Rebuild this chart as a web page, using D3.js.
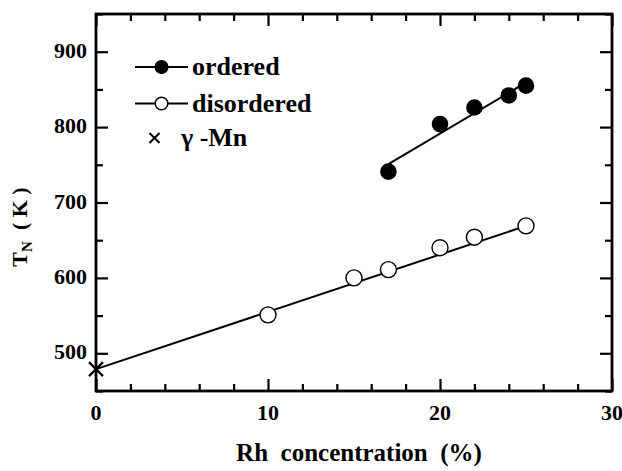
<!DOCTYPE html>
<html><head><meta charset="utf-8">
<script src="https://cdn.jsdelivr.net/npm/d3@7"></script>
<style>body{margin:0;background:#fff}svg{display:block}</style>
</head><body>
<svg id="c" width="622" height="471"></svg>
<script>
const orderedX = [17, 20, 22, 24, 25];
const orderedY = [741, 804, 826, 842, 855];
const disorderedX = [10, 15, 17, 20, 22, 25];
const disorderedY = [551, 600, 611, 640, 654, 669];
const gammaMnX = [0];
const gammaMnY = [479];
const fitOrderedX = [17, 25];
const fitOrderedY = [751, 859];
const fitDisorderedX = [0, 25];
const fitDisorderedY = [479, 669];
const xTicks = [0, 10, 20, 30];
const yTicks = [500, 600, 700, 800, 900];
const legendLabels = ["ordered", "disordered", "γ -Mn"];

const FONT = "Liberation Serif";
const svg = d3.select("#c");
const L = 96, R = 612, T = 14, B = 391;
const x = d3.scaleLinear().domain([0, 30]).range([L, R]);
const y = d3.scaleLinear().domain([450, 950]).range([B, T]);

const g = svg.append("g");
function tickAxis(axis, scale, vals, size) {
  return axis(scale).tickValues(vals).tickSize(size).tickFormat("");
}
const xMinor = d3.range(0, 31, 2).filter(v => v % 10 !== 0);
const yMinor = d3.range(450, 951, 50).filter(v => v % 100 !== 0);
const sty = s => s.call(a => a.select(".domain").remove()).selectAll("line").attr("stroke", "#000").attr("stroke-width", 2.2);
g.append("g").attr("transform", `translate(0,${B})`).call(tickAxis(d3.axisTop, x, xTicks, 12)).call(sty);
g.append("g").attr("transform", `translate(0,${B})`).call(tickAxis(d3.axisTop, x, xMinor, 7)).call(sty);
g.append("g").attr("transform", `translate(0,${T})`).call(tickAxis(d3.axisBottom, x, xTicks, 12)).call(sty);
g.append("g").attr("transform", `translate(0,${T})`).call(tickAxis(d3.axisBottom, x, xMinor, 7)).call(sty);
g.append("g").attr("transform", `translate(${L},0)`).call(tickAxis(d3.axisRight, y, yTicks, 12)).call(sty);
g.append("g").attr("transform", `translate(${L},0)`).call(tickAxis(d3.axisRight, y, yMinor, 7)).call(sty);
g.append("g").attr("transform", `translate(${R},0)`).call(tickAxis(d3.axisLeft, y, yTicks, 12)).call(sty);
g.append("g").attr("transform", `translate(${R},0)`).call(tickAxis(d3.axisLeft, y, yMinor, 7)).call(sty);
g.selectAll(".tick text").remove();

// frame
svg.append("rect").attr("x", L).attr("y", T).attr("width", R - L).attr("height", B - T)
  .attr("fill", "none").attr("stroke", "#000").attr("stroke-width", 2.8);

const txt = (sel) => sel.append("text").attr("font-family", FONT).attr("font-weight", "bold").attr("fill", "#000");

// tick labels
xTicks.forEach(d => txt(svg).attr("x", x(d)).attr("y", 420).attr("text-anchor", "middle").attr("font-size", 22).text(d));
yTicks.forEach(d => txt(svg).attr("x", 87).attr("y", y(d) + 6).attr("text-anchor", "end").attr("font-size", 22).text(d));

// lines
const line = d3.line().x(d => x(d[0])).y(d => y(d[1]));
svg.append("path").attr("d", line(d3.zip(fitOrderedX, fitOrderedY))).attr("stroke", "#000").attr("stroke-width", 2).attr("fill", "none");
svg.append("path").attr("d", line(d3.zip(fitDisorderedX, fitDisorderedY))).attr("stroke", "#000").attr("stroke-width", 2).attr("fill", "none");

// points
svg.selectAll(".op").data(d3.zip(orderedX, orderedY)).join("circle").attr("class", "op")
  .attr("cx", d => x(d[0])).attr("cy", d => y(d[1])).attr("r", 8.3).attr("fill", "#000");
svg.selectAll(".dp").data(d3.zip(disorderedX, disorderedY)).join("circle").attr("class", "dp")
  .attr("cx", d => x(d[0])).attr("cy", d => y(d[1])).attr("r", 8).attr("fill", "#fff").attr("stroke", "#000").attr("stroke-width", 1.4);
const cross = (sel, cx, cy, s, w) => {
  sel.append("path").attr("d", `M${cx - s},${cy - s}L${cx + s},${cy + s}M${cx - s},${cy + s}L${cx + s},${cy - s}`)
    .attr("stroke", "#000").attr("stroke-width", w).attr("fill", "none");
};
d3.zip(gammaMnX, gammaMnY).forEach(d => cross(svg, x(d[0]), y(d[1]), 7, 2.2));

// legend
const lg = svg.append("g");
const ly = [67, 103.5, 138];
[0, 1].forEach(i => {
  lg.append("line").attr("x1", 135).attr("x2", 188).attr("y1", ly[i]).attr("y2", ly[i]).attr("stroke", "#000").attr("stroke-width", 2);
  lg.append("circle").attr("cx", 161.5).attr("cy", ly[i]).attr("r", 6.3)
    .attr("fill", i === 0 ? "#000" : "#fff").attr("stroke", "#000").attr("stroke-width", 1.5);
  txt(lg).attr("x", 192).attr("y", ly[i] + 8).attr("font-size", 26).text(legendLabels[i]);
});
cross(lg, 154.5, ly[2], 5, 2);
txt(lg).attr("x", 181).attr("y", ly[2] + 8).attr("font-size", 26).text(legendLabels[2]);

// axis titles
txt(svg).attr("x", 359).attr("y", 461).attr("text-anchor", "middle").attr("font-size", 25)
  .style("white-space", "pre").text("Rh  concentration  (%)");
const yt = txt(svg).attr("transform", "translate(27,227) rotate(-90)").attr("text-anchor", "middle").attr("font-size", 22)
  .style("white-space", "pre");
yt.append("tspan").text("T");
yt.append("tspan").attr("font-size", 15).attr("dy", 5).text("N");
yt.append("tspan").attr("dy", -5).text("  ( K )");
</script>
</body></html>
